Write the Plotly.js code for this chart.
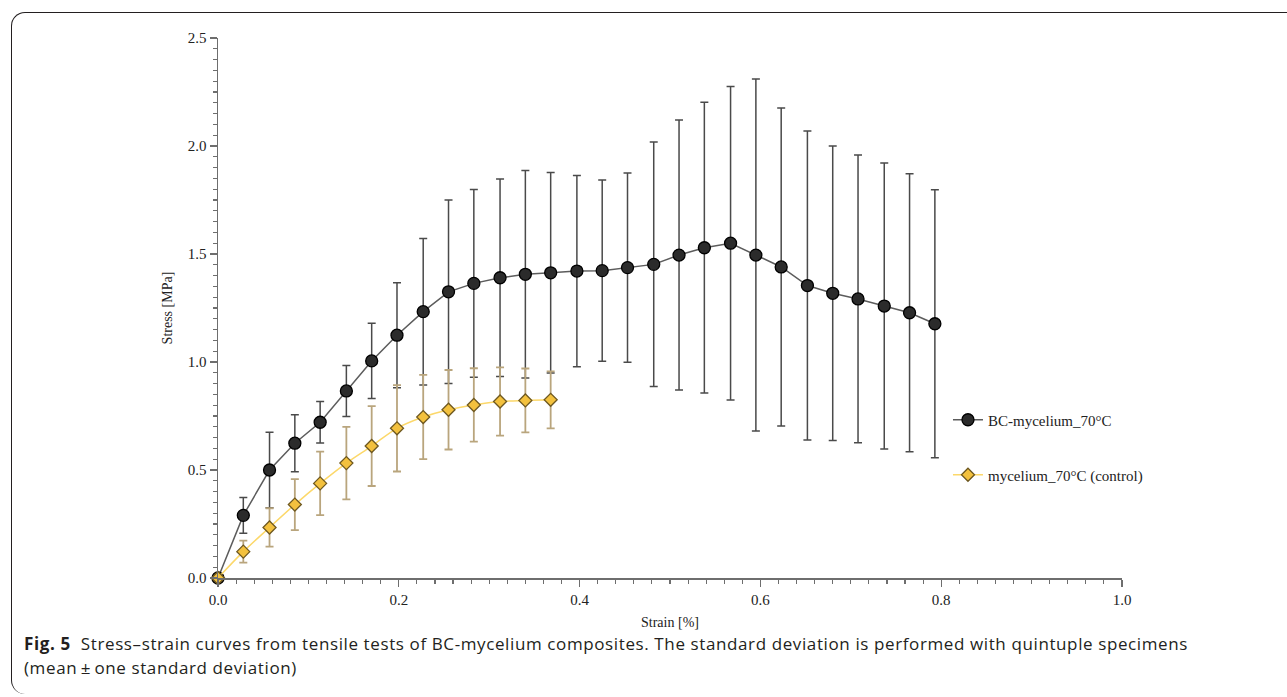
<!DOCTYPE html>
<html>
<head>
<meta charset="utf-8">
<script src="https://cdn.plot.ly/plotly-3.0.1.min.js"></script>
<style>
  html, body { margin:0; padding:0; background:#ffffff; }
  #wrap { position:relative; width:1287px; height:697px; overflow:hidden; background:#fff; }
  #frame { position:absolute; left:11px; top:12px; width:1320px; height:682px;
           border-left:1.3px solid #231f20; border-top:1.3px solid #231f20;
           border-top-left-radius:14px; border-bottom-left-radius:14px; box-sizing:border-box; }
  #chart { position:absolute; left:0; top:0; width:1287px; height:697px; }
  #caption { position:absolute; left:24px; top:632px; font-family:"Open Sans", "Noto Sans", sans-serif;
             font-size:17px; line-height:24px; color:#231f20; white-space:nowrap; }
  #caption b { font-weight:700; }
</style>
</head>
<body>
<div id="wrap">
  <div id="frame"></div>
  <div id="chart"></div>
  <div id="caption">
    <div><span id="line1"><b>Fig. 5</b>&nbsp;&nbsp;Stress–strain curves from tensile tests of BC-mycelium composites. The standard deviation is performed with quintuple specimens</span></div>
    <div><span id="line2">(mean&#8201;±&#8201;one standard deviation)</span></div>
  </div>
</div>
<script>
// ---- data ----
var strainBC = [0, 0.028, 0.057, 0.085, 0.113, 0.142, 0.170, 0.198, 0.227, 0.255, 0.283, 0.312, 0.340, 0.368, 0.397,
                0.425, 0.453, 0.482, 0.510, 0.538, 0.567, 0.595, 0.623, 0.652, 0.680, 0.708, 0.737, 0.765, 0.793];
var stressBC = [0, 0.290, 0.500, 0.624, 0.721, 0.866, 1.005, 1.124, 1.233, 1.325, 1.364, 1.390, 1.406, 1.413, 1.421,
                1.423, 1.437, 1.452, 1.495, 1.529, 1.550, 1.495, 1.440, 1.354, 1.318, 1.292, 1.259, 1.228, 1.177];
var sdBC     = [0, 0.083, 0.175, 0.132, 0.096, 0.118, 0.174, 0.243, 0.339, 0.425, 0.435, 0.457, 0.480, 0.464, 0.443,
                0.420, 0.438, 0.566, 0.625, 0.673, 0.726, 0.815, 0.736, 0.715, 0.682, 0.666, 0.662, 0.643, 0.620];

var strainMy = [0, 0.028, 0.057, 0.085, 0.113, 0.142, 0.170, 0.198, 0.227, 0.255, 0.283, 0.312, 0.340, 0.368];
var stressMy = [0, 0.122, 0.234, 0.340, 0.438, 0.532, 0.611, 0.693, 0.745, 0.779, 0.801, 0.817, 0.822, 0.825];
var sdMy     = [0, 0.051, 0.089, 0.118, 0.147, 0.168, 0.185, 0.200, 0.195, 0.184, 0.170, 0.158, 0.148, 0.132];

var nameBC = "BC-mycelium_70°C";
var nameMy = "mycelium_70°C (control)";
var xTitle = "Strain [%]";
var yTitle = "Stress [MPa]";

var serif = "Liberation Serif, Times New Roman, serif";

var traces = [
  {
    x: strainBC, y: stressBC, name: nameBC, type: "scatter", mode: "lines+markers",
    line: { color: "#5c5c5c", width: 1.5 },
    marker: { symbol: "circle", size: 12, color: "#2b2b2b", line: { color: "#000000", width: 1.3 } },
    error_y: { type: "data", array: sdBC, visible: true, color: "#4a4a4a", thickness: 1.5, width: 4 },
    cliponaxis: false, legend: "legend"
  },
  {
    x: strainMy, y: stressMy, name: nameMy, type: "scatter", mode: "lines+markers",
    line: { color: "#fcd86a", width: 1.5, shape: "spline" },
    marker: { symbol: "diamond", size: 10, color: "#f3c13e", line: { color: "#6e5820", width: 1.3 } },
    error_y: { type: "data", array: sdMy, visible: true, color: "#b9a57d", thickness: 1.8, width: 4 },
    cliponaxis: false, legend: "legend2"
  }
];

var axisCommon = {
  showgrid: false, zeroline: false, showline: true, linecolor: "#6e6e6e", linewidth: 1.5,
  ticks: "outside", ticklen: 7, tickwidth: 1.3, tickcolor: "#6e6e6e",
  tickfont: { family: serif, size: 15, color: "#222222" },
  tickformat: ".1f"
};

var layout = {
  width: 1287, height: 697,
  margin: { l: 218, r: 165, t: 38, b: 119 },
  paper_bgcolor: "rgba(0,0,0,0)", plot_bgcolor: "rgba(0,0,0,0)",
  showlegend: true,
  xaxis: Object.assign({}, axisCommon, {
    range: [0, 1.0], dtick: 0.2, tick0: 0,
    minor: { ticks: "outside", ticklen: 4, tickcolor: "#6e6e6e", tickwidth: 1.1, dtick: 0.02, showgrid: false },
    title: { text: xTitle, font: { family: serif, size: 14, color: "#222222" }, standoff: 10 }
  }),
  yaxis: Object.assign({}, axisCommon, {
    range: [0, 2.5], dtick: 0.5, tick0: 0,
    minor: { ticks: "outside", ticklen: 4, tickcolor: "#6e6e6e", tickwidth: 1.1, dtick: 0.05, showgrid: false },
    title: { text: yTitle, font: { family: serif, size: 14, color: "#222222" }, standoff: 12 }
  }),
  legend: { x: 0.8075, y: 0.2926, xanchor: "left", yanchor: "middle", bgcolor: "rgba(0,0,0,0)",
            font: { family: serif, size: 15, color: "#222222" } },
  legend2: { x: 0.8075, y: 0.1907, xanchor: "left", yanchor: "middle", bgcolor: "rgba(0,0,0,0)",
             font: { family: serif, size: 15, color: "#222222" } }
};

Plotly.newPlot("chart", traces, layout, { displayModeBar: false, staticPlot: true }).then(function () {
  var target = 1164;
  var l1 = document.getElementById("line1");
  var w = l1.getBoundingClientRect().width;
  var n = l1.textContent.length;
  var ls = (target - w) / n;
  document.getElementById("line1").style.letterSpacing = ls + "px";
  document.getElementById("line2").style.letterSpacing = ls + "px";
});
</script>
</body>
</html>
